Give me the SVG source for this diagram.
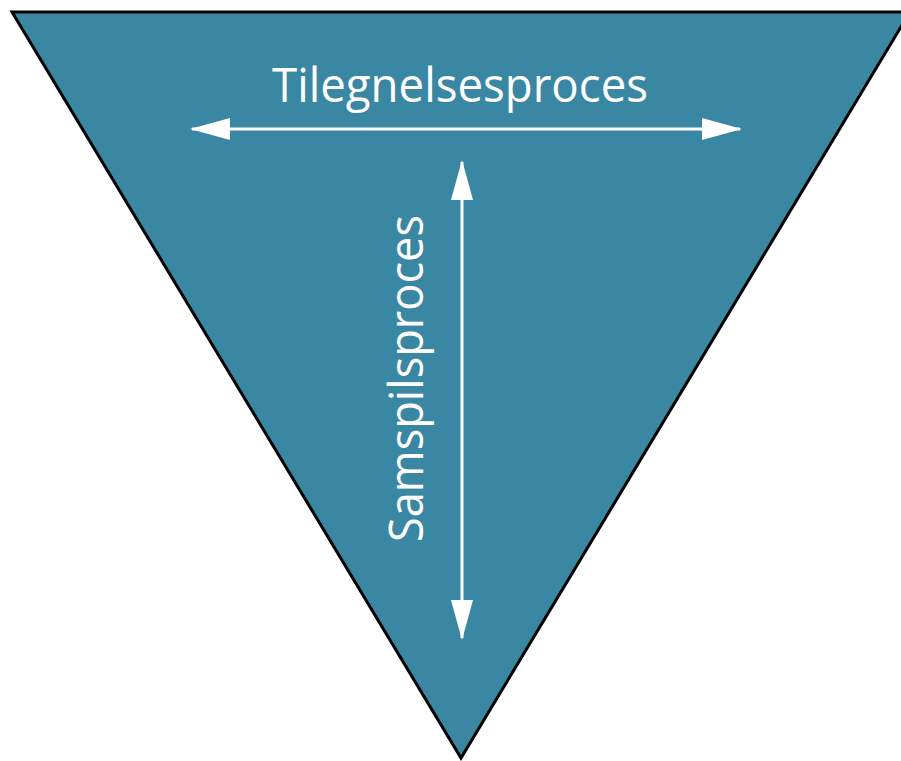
<svg xmlns="http://www.w3.org/2000/svg" width="901" height="761" viewBox="0 0 901 761">
  <style>
    .label { font-family: "Open Sans", "DejaVu Sans", sans-serif; font-size: 48px; fill: #ffffff; }
    .conn { stroke: #ffffff; stroke-width: 3; fill: none; }
  </style>
  <defs>
    <marker id="head" viewBox="0 0 40 22" refX="38" refY="11" markerWidth="40" markerHeight="22" markerUnits="userSpaceOnUse" orient="auto-start-reverse">
      <path d="M0,0 L40,11 L0,22 Z" fill="#ffffff"/>
    </marker>
  </defs>
  <rect width="901" height="761" fill="#ffffff"/>
  <g id="funnel">
    <polygon points="12,12 910,12 461,758" fill="#3a87a3" stroke="#000000" stroke-width="3" stroke-linejoin="miter"/>
  </g>
  <g id="connectors">
    <line class="conn" x1="192" y1="129" x2="740" y2="129" marker-start="url(#head)" marker-end="url(#head)"/>
    <line class="conn" x1="462" y1="162" x2="462" y2="638" marker-start="url(#head)" marker-end="url(#head)"/>
  </g>
  <g id="tilegnelse">
    <text class="label" x="272" y="102" textLength="376" lengthAdjust="spacingAndGlyphs">Tilegnelsesproces</text>
  </g>
  <g id="samspil">
    <text class="label" transform="translate(423,542) rotate(-90)" x="0" y="0" textLength="327" lengthAdjust="spacingAndGlyphs">Samspilsproces</text>
  </g>
</svg>
